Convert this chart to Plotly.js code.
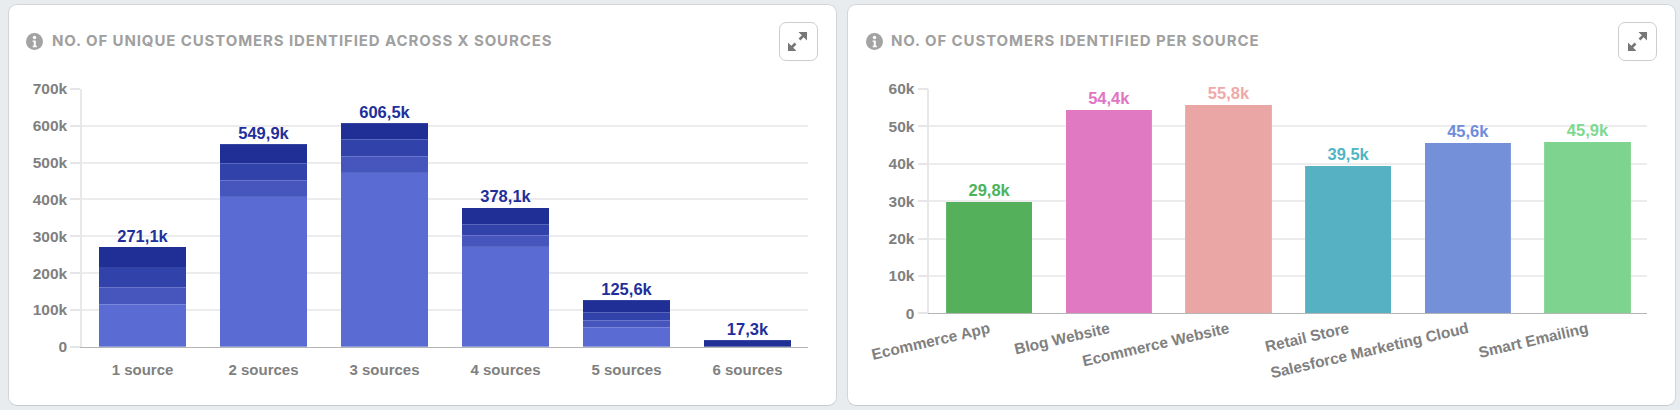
<!DOCTYPE html>
<html>
<head>
<meta charset="utf-8">
<script src="https://cdn.plot.ly/plotly-3.0.1.min.js"></script>
<style>
html,body{margin:0;padding:0;width:1680px;height:410px;background:#e8ecef;overflow:hidden}
.card{position:absolute;top:3.5px;height:400px;background:#fff;border:1px solid #d2d6d9;border-bottom:1.5px solid #c6cacd;border-radius:9px;box-sizing:content-box}
.btn{position:absolute;top:22px;width:37px;height:37px;border:1.3px solid #cdcdcd;border-radius:7px;background:#fff}
.icon{position:absolute}
#plot{position:absolute;left:0;top:0;width:1680px;height:410px}
.annotation-text{letter-spacing:.89px}
</style>
</head>
<body>
<div class="card" style="left:7.5px;width:827px"></div>
<div class="card" style="left:846.5px;width:827px"></div>
<div class="btn" style="left:778.5px"></div>
<div class="btn" style="left:1618px"></div>
<svg class="icon" style="left:26px;top:33px" width="17" height="17" viewBox="0 0 16 16"><circle cx="8" cy="8" r="8" fill="#a3a3a3"/><circle cx="8" cy="4.2" r="1.6" fill="#fff"/><path d="M6.3 7h2.9v5h1v1.400H6.300v-1.400h1v-3.600h-1z" fill="#fff"/></svg>
<svg class="icon" style="left:866px;top:33px" width="17" height="17" viewBox="0 0 16 16"><circle cx="8" cy="8" r="8" fill="#a3a3a3"/><circle cx="8" cy="4.2" r="1.6" fill="#fff"/><path d="M6.3 7h2.9v5h1v1.400H6.300v-1.400h1v-3.600h-1z" fill="#fff"/></svg>
<svg class="icon" style="left:787px;top:31px" width="21" height="21" viewBox="0 0 21 21"><path d="M11.500 1h8.500v8.500zM1 11.500v8.500h8.500z" fill="#777"/><path d="M4.500 16.500l4-4M12.500 8.500l4-4" stroke="#777" stroke-width="2.600" fill="none"/></svg>
<svg class="icon" style="left:1626.500px;top:31px" width="21" height="21" viewBox="0 0 21 21"><path d="M11.500 1h8.500v8.500zM1 11.500v8.500h8.500z" fill="#777"/><path d="M4.500 16.500l4-4M12.500 8.500l4-4" stroke="#777" stroke-width="2.600" fill="none"/></svg>
<div id="plot"></div>
<script>
var sourceCounts = ["1 source","2 sources","3 sources","4 sources","5 sources","6 sources"];
var layer1 = [116000,407000,473000,271000,53000,0];
var layer2 = [45000,45000,45000,31600,19000,0];
var layer3 = [54000,46000,45000,30400,22000,0];
var layer4 = [56100,51900,43500,45100,31600,17300];
var totals = [271100,549900,606500,378100,125600,17300];
var totalLabels = ["271,1k","549,9k","606,5k","378,1k","125,6k","17,3k"];
var layerColors = ["#5a6bd3","#4656bd","#3242ab","#1f2f96"];
var totalColor = "#1f2f9b";
var leftTicks = [0,100000,200000,300000,400000,500000,600000,700000];
var leftTickText = ["0","100k","200k","300k","400k","500k","600k","700k"];

var sources = ["Ecommerce App","Blog Website","Ecommerce Website","Retail Store","Salesforce Marketing Cloud","Smart Emailing"];
var perSource = [29800,54400,55800,39500,45600,45900];
var perSourceLabels = ["29,8k","54,4k","55,8k","39,5k","45,6k","45,9k"];
var sourceColors = ["#55b05c","#e079c2","#e9a6a5","#56b2c2","#7390d8","#7ed48e"];
var labelColors = ["#4bb359","#e075c4","#f0a9a9","#50b5c6","#6f8cdc","#7ed98f"];
var rightTicks = [0,10000,20000,30000,40000,50000,60000];
var rightTickText = ["0","10k","20k","30k","40k","50k","60k"];

var W = 1680, H = 410;
var FONT = "Liberation Sans, Arial, sans-serif";
var traces = [];
layerColors.forEach(function(c,i){
  traces.push({type:"bar",x:sourceCounts,y:[layer1,layer2,layer3,layer4][i],xaxis:"x",yaxis:"y",
    marker:{color:c,line:{color:"rgba(255,255,255,0.1)",width:1}},hoverinfo:"y",showlegend:false});
});
traces.push({type:"scatter",mode:"text+markers",x:sourceCounts,y:totals,xaxis:"x",yaxis:"y",text:totalLabels,
  marker:{size:0.1,opacity:0},textposition:"top center",cliponaxis:false,textfont:{family:FONT,size:16.5,weight:700,color:totalColor},hoverinfo:"skip",showlegend:false});
traces.push({type:"bar",x:sources,y:perSource,xaxis:"x2",yaxis:"y2",
  marker:{color:sourceColors,line:{color:"rgba(255,255,255,0.1)",width:1}},hoverinfo:"y",showlegend:false});
traces.push({type:"scatter",mode:"text+markers",x:sources,y:perSource,xaxis:"x2",yaxis:"y2",text:perSourceLabels,
  marker:{size:1.6,opacity:0},textposition:"top center",cliponaxis:false,textfont:{family:FONT,size:16.5,weight:700,color:labelColors},hoverinfo:"skip",showlegend:false});

function xAxis(l,r,anchor,angle,standoff,size){
  return {domain:[l/W,r/W],anchor:anchor,type:"category",range:[-0.5,5.5],fixedrange:true,
    showgrid:false,zeroline:false,showline:true,linecolor:"#b4b4b4",linewidth:1.3,ticks:"",
    tickangle:angle,ticklabelstandoff:standoff,automargin:false,
    tickfont:{family:FONT,size:size,weight:700,color:"#808080"}};
}
function yAxis(b,t,anchor,max,vals,txt){
  return {domain:[(H-b)/H,(H-t)/H],anchor:anchor,range:[0,max],fixedrange:true,tickmode:"array",tickvals:vals,ticktext:txt,
    showgrid:true,gridcolor:"#ececee",gridwidth:1.5,zeroline:false,showline:true,linecolor:"#e8e8ea",linewidth:1.5,
    ticks:"outside",ticklen:10,tickcolor:"#e6e6e8",tickwidth:1.5,automargin:false,
    tickfont:{family:FONT,size:15.500,weight:700,color:"#808080"}};
}
var titleFont = {family:"Inter, Liberation Sans, sans-serif",size:15,weight:700,color:"#a0a0a0"};
var layout = {
  width:W,height:H,margin:{l:0,r:0,t:0,b:0},paper_bgcolor:"rgba(0,0,0,0)",plot_bgcolor:"rgba(0,0,0,0)",
  barmode:"stack",bargap:0.28,showlegend:false,
  xaxis:xAxis(82,808,"y",0,9,15),
  yaxis:yAxis(346.7,89,"x",700000,leftTicks,leftTickText),
  xaxis2:xAxis(929.3,1647.3,"y2",-13,2.5,15.4),
  yaxis2:yAxis(313.3,89,"x2",60000,rightTicks,rightTickText),
  annotations:[
    {xref:"paper",yref:"paper",x:50/W,y:(H-41)/H,xanchor:"left",yanchor:"middle",showarrow:false,text:"NO. OF UNIQUE CUSTOMERS IDENTIFIED ACROSS X SOURCES",font:titleFont},
    {xref:"paper",yref:"paper",x:889/W,y:(H-41)/H,xanchor:"left",yanchor:"middle",showarrow:false,text:"NO. OF CUSTOMERS IDENTIFIED PER SOURCE",font:titleFont}
  ]
};
Plotly.newPlot("plot",traces,layout,{displayModeBar:false,responsive:false});
</script>
</body>
</html>
